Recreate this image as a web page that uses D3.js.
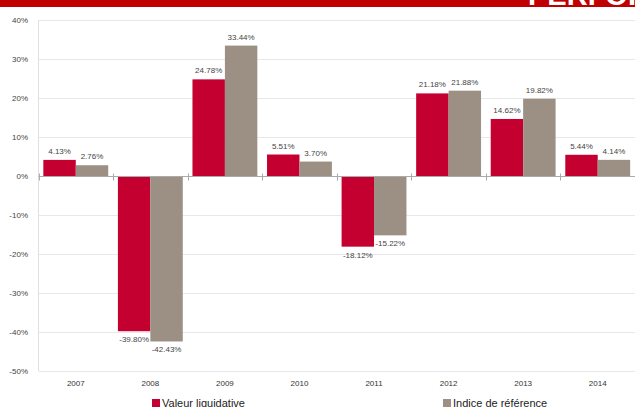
<!DOCTYPE html>
<html><head><meta charset="utf-8">
<script src="https://cdn.jsdelivr.net/npm/d3@7"></script>
<style>body{margin:0;background:#fff}svg{display:block;font-family:"Liberation Sans",Arial,sans-serif}</style>
</head><body><svg id="c" width="635" height="407"></svg>
<script>
const years = ["2007","2008","2009","2010","2011","2012","2013","2014"];
const valeurLiquidative = [4.13,-39.80,24.78,5.51,-18.12,21.18,14.62,5.44];
const indiceReference = [2.76,-42.43,33.44,3.70,-15.22,21.88,19.82,4.14];
const seriesNames = ["Valeur liquidative","Indice de référence"];
const colors = ["#C3002F","#9B9083"];
const yTicks = [40,30,20,10,0,-10,-20,-30,-40,-50];

const svg = d3.select("#c");
const L = 38.5, R = 635, T = 20, B = 371;
const y = d3.scaleLinear().domain([-50,40]).range([B,T]);
const x = d3.scaleBand().domain(years).range([L,R]).paddingInner(0.13).paddingOuter(0.065);
const xs = d3.scaleBand().domain([0,1]).range([0,x.bandwidth()]);

// banner
svg.append("rect").attr("x",0).attr("y",0).attr("width",635).attr("height",7).attr("fill","#C00000");
svg.append("text").attr("x",528).attr("y",5).attr("fill","#fff").attr("font-weight","bold")
  .attr("font-size",29).text("PERFORMANCES");

// gridlines
svg.append("g").selectAll("line").data(yTicks).join("line")
  .attr("x1",L).attr("x2",R).attr("y1",d=>Math.round(y(d))+0.5).attr("y2",d=>Math.round(y(d))+0.5)
  .attr("stroke","#e8e8e8").attr("stroke-width",1);
svg.append("line").attr("x1",L).attr("x2",L).attr("y1",T).attr("y2",B).attr("stroke","#e0e0e0");

// y tick labels
svg.append("g").selectAll("text").data(yTicks).join("text")
  .attr("x",28).attr("y",d=>y(d)+3).attr("text-anchor","end")
  .attr("font-size",8).attr("fill","#444").text(d=>d+"%");

// bars
const data = years.map((yr,i)=>({yr, vals:[valeurLiquidative[i], indiceReference[i]]}));
const g = svg.append("g").selectAll("g").data(data).join("g").attr("transform",d=>`translate(${x(d.yr)},0)`);
g.selectAll("rect").data(d=>d.vals.map((v,k)=>({v,k}))).join("rect")
  .attr("x",d=>xs(d.k)).attr("width",xs.bandwidth())
  .attr("y",d=>y(Math.max(0,d.v))).attr("height",d=>Math.abs(y(d.v)-y(0)))
  .attr("fill",d=>colors[d.k]);
g.selectAll("text").data(d=>d.vals.map((v,k)=>({v,k}))).join("text")
  .attr("x",d=>xs(d.k)+xs.bandwidth()/2)
  .attr("y",d=>d.v>=0 ? y(d.v)-6 : y(d.v)+11)
  .attr("text-anchor","middle").attr("font-size",8).attr("fill","#444")
  .text(d=>d.v.toFixed(2)+"%");

// zero axis
const y0 = Math.round(y(0))+0.5;
svg.append("line").attr("x1",L).attr("x2",R).attr("y1",y0).attr("y2",y0).attr("stroke","#aaa");
const bounds = d3.range(years.length+1).map(i=>L + i*x.step());
svg.append("g").selectAll("line").data(bounds).join("line")
  .attr("x1",d=>Math.round(d)+0.5).attr("x2",d=>Math.round(d)+0.5).attr("y1",y0-3).attr("y2",y0+4)
  .attr("stroke","#aaa");

// x labels
svg.append("g").selectAll("text").data(years).join("text")
  .attr("x",d=>x(d)+x.bandwidth()/2).attr("y",386).attr("text-anchor","middle")
  .attr("font-size",8).attr("fill","#333").text(d=>d);

// legend
const lx = [152,443];
seriesNames.forEach((n,i)=>{
  svg.append("rect").attr("x",lx[i]).attr("y",399).attr("width",8).attr("height",8).attr("fill",colors[i]);
  svg.append("text").attr("x",lx[i]+10).attr("y",407).attr("font-size",11).attr("fill","#222").text(n);
});
</script></body></html>
